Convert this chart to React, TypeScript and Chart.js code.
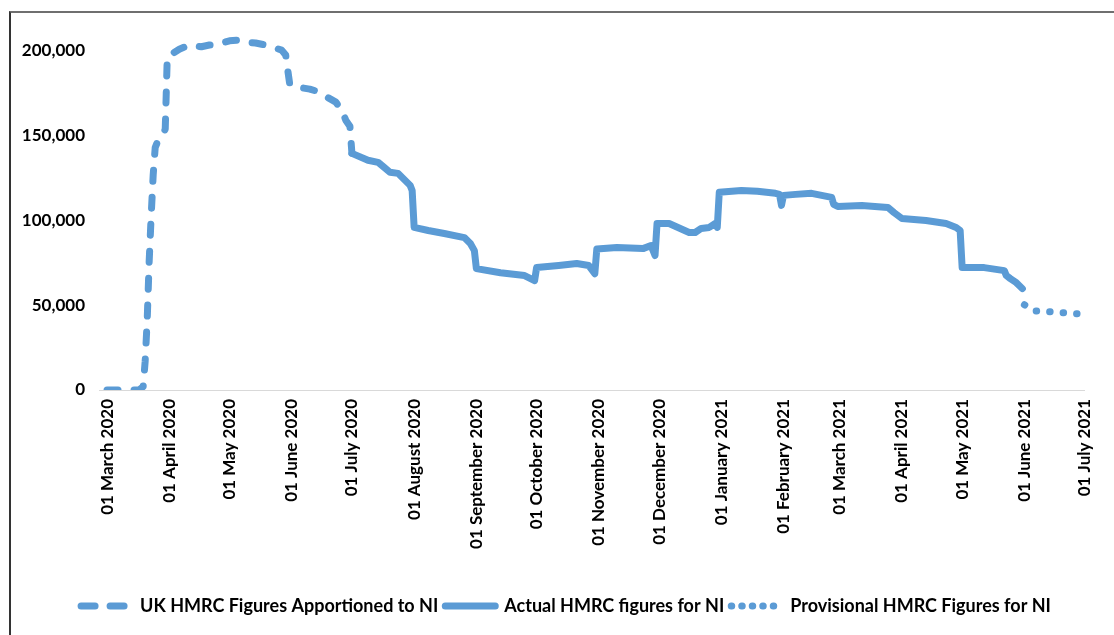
import React, { useEffect, useRef } from "react";
import { Chart, registerables } from "chart.js";

Chart.register(...registerables);

// ---- Data (day offsets counted from 01 March 2020) ----
const xTickDays = [0, 31, 61, 92, 122, 153, 184, 214, 245, 275, 306, 337, 365, 396, 426, 457, 487];
const xTickLabels = [
  "01 March 2020",
  "01 April 2020",
  "01 May 2020",
  "01 June 2020",
  "01 July 2020",
  "01 August 2020",
  "01 September 2020",
  "01 October 2020",
  "01 November 2020",
  "01 December 2020",
  "01 January 2021",
  "01 February 2021",
  "01 March 2021",
  "01 April 2021",
  "01 May 2021",
  "01 June 2021",
  "01 July 2021",
];
const yTickValues = [0, 50000, 100000, 150000, 200000];

const seriesNames = [
  "UK HMRC Figures Apportioned to NI",
  "Actual HMRC figures for NI",
  "Provisional HMRC Figures for NI",
];

const apportionedDays = [0, 16, 18, 19, 20, 21, 22, 23, 24, 25, 28, 29, 30, 32, 36, 41, 44, 47, 51, 54, 61, 66, 71, 74, 79, 87, 89, 90, 91, 93, 101, 106, 110, 114, 117, 119, 121, 122];
const apportionedValues = [0, 0, 2000, 17000, 41000, 76000, 103000, 127000, 143000, 146000, 151000, 154000, 196000, 198000, 201000, 203500, 203000, 202500, 203500, 203500, 206000, 206500, 205000, 204700, 203500, 200500, 197600, 189000, 180500, 179000, 177500, 175700, 172500, 169800, 165000, 159000, 155600, 139600];

const actualDays = [122, 130, 135, 138, 141, 145, 146, 151, 152, 153, 160, 168, 178, 181, 183, 184, 196, 208, 212, 213, 214, 225, 234, 240, 243, 244, 254, 267, 271, 273, 274, 280, 290, 293, 296, 300, 303, 304, 305, 316, 324, 333, 335, 336, 337, 343, 351, 361, 362, 364, 376, 389, 392, 396, 408, 418, 423, 425, 426, 437, 447, 448, 450, 453, 456];
const actualValues = [139600, 135500, 134300, 131400, 128400, 127800, 126600, 120700, 117700, 95900, 94100, 92300, 89900, 86400, 82200, 71600, 69200, 67500, 65100, 64500, 72200, 73400, 74600, 73400, 68600, 83200, 84000, 83400, 85200, 79300, 98200, 98200, 92900, 92900, 95300, 95900, 98200, 95900, 116600, 117700, 117200, 116000, 115400, 108900, 114800, 115400, 116000, 113600, 109500, 108300, 108900, 107700, 104700, 101200, 100000, 98200, 95900, 94100, 72200, 72200, 70400, 67500, 65700, 63300, 59800];

const provisionalDays = [457, 462, 469, 476, 484];
const provisionalValues = [50300, 46700, 46200, 45600, 44900];

const lineColor = "#5B9BD5";
const fontFamily = "Lato, 'Noto Sans', sans-serif";
const seriesDashes: number[][] = [[11, 16], [], [0.5, 13]];
const legendDashes: number[][] = [[14, 15], [], [0.5, 10]];

function toPoints(days: number[], values: number[]) {
  return days.map((d, i) => ({ x: d, y: values[i] }));
}

const shiftLegend = {
  id: "shiftLegend",
  afterLayout(c: any) {
    if (c.legend) {
      c.legend.left += 20;
      c.legend.right += 20;
    }
  },
};

export default function App() {
  const canvasRef = useRef<HTMLCanvasElement | null>(null);

  useEffect(() => {
    if (!canvasRef.current) return;
    const common = {
      borderColor: lineColor,
      backgroundColor: lineColor,
      borderWidth: 7,
      pointRadius: 0,
      pointHoverRadius: 0,
      borderCapStyle: "round" as const,
      borderJoinStyle: "round" as const,
      tension: 0,
      fill: false,
    };
    const chart = new Chart(canvasRef.current, {
      type: "line",
      data: {
        datasets: [
          { ...common, label: seriesNames[0], data: toPoints(apportionedDays, apportionedValues), borderDash: seriesDashes[0] },
          { ...common, label: seriesNames[1], data: toPoints(actualDays, actualValues), borderDash: seriesDashes[1] },
          { ...common, label: seriesNames[2], data: toPoints(provisionalDays, provisionalValues), borderDash: seriesDashes[2] },
        ],
      },
      plugins: [shiftLegend],
      options: {
        animation: false,
        responsive: false,
        maintainAspectRatio: false,
        devicePixelRatio: 1,
        layout: { padding: { top: 34, right: 22, left: 0, bottom: 10 } },
        plugins: {
          title: { display: false },
          tooltip: { enabled: false },
          legend: {
            position: "bottom",
            labels: {
              usePointStyle: true,
              pointStyle: "line",
              pointStyleWidth: 50,
              boxWidth: 50,
              color: "#000",
              padding: 7,
              font: { family: fontFamily, size: 18, weight: "bold" },
              generateLabels: (c: any) =>
                c.data.datasets.map((ds: any, i: number) => ({
                  text: ds.label,
                  fillStyle: lineColor,
                  strokeStyle: lineColor,
                  lineWidth: 7,
                  lineDash: legendDashes[i],
                  lineCap: "round",
                  lineJoin: "round",
                  pointStyle: "line",
                  fontColor: "#000",
                  hidden: false,
                  datasetIndex: i,
                })),
            },
          },
        },
        scales: {
          x: {
            type: "linear",
            min: -4,
            max: 487,
            afterBuildTicks: (scale: any) => {
              scale.ticks = xTickDays.map((v) => ({ value: v }));
            },
            afterFit: (scale: any) => {
              scale.height = 200;
            },
            ticks: {
              autoSkip: false,
              minRotation: 90,
              maxRotation: 90,
              padding: 9,
              color: "#000",
              font: { family: fontFamily, size: 17, weight: "bold" },
              callback: (v: any) => {
                const i = xTickDays.indexOf(Number(v));
                return i >= 0 ? xTickLabels[i] : "";
              },
            },
            grid: { display: false, drawTicks: false },
            border: { display: true, color: "#d9d9d9", width: 1 },
          },
          y: {
            type: "linear",
            min: 0,
            max: 210000,
            afterBuildTicks: (scale: any) => {
              scale.ticks = yTickValues.map((v) => ({ value: v }));
            },
            afterFit: (scale: any) => {
              scale.width = 99;
            },
            ticks: {
              padding: 14,
              color: "#000",
              font: { family: fontFamily, size: 17, weight: "bold" },
              callback: (v: any) => Number(v).toLocaleString("en-US"),
            },
            grid: { display: false, drawTicks: false },
            border: { display: false },
          },
        },
      },
    } as any);
    return () => chart.destroy();
  }, []);

  return (
    <div style={{ position: "fixed", left: 0, top: 0, width: 1114, height: 635, background: "#fff", overflow: "hidden" }}>
      <div
        style={{
          position: "absolute",
          left: 9,
          top: 11,
          width: 1120,
          height: 640,
          borderLeft: "2px solid #333",
          borderTop: "2px solid #6f6f6f",
          boxSizing: "border-box",
        }}
      />
      <canvas ref={canvasRef} width={1114} height={635} style={{ position: "absolute", left: 0, top: 0, width: 1114, height: 635 }} />
    </div>
  );
}
